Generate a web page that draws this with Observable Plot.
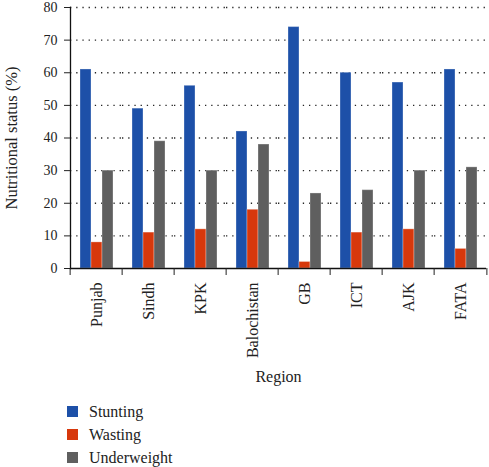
<!DOCTYPE html>
<html>
<head>
<meta charset="utf-8">
<script src="https://cdn.jsdelivr.net/npm/d3@7"></script>
<script src="https://cdn.jsdelivr.net/npm/@observablehq/plot@0.6"></script>
<style>
  body { margin: 0; background: #fff; font-family: "Liberation Serif", "DejaVu Serif", "Times New Roman", serif; }
  #legend { margin: 10px 0 0 67px; }
  .item { display: flex; align-items: center; height: 23px; font-size: 16px; color: #222; }
  .sw { width: 11px; height: 11px; margin-right: 11px; }
</style>
</head>
<body>
<div id="chart"></div>
<div id="legend"></div>
<script>
const regions = ["Punjab", "Sindh", "KPK", "Balochistan", "GB", "ICT", "AJK", "FATA"];
const series = ["Stunting", "Wasting", "Underweight"];
const stunting = [61, 49, 56, 42, 74, 60, 57, 61];
const wasting = [8, 11, 12, 18, 2, 11, 12, 6];
const underweight = [30, 39, 30, 38, 23, 24, 30, 31];
const colors = ["#1d50a8", "#d7380c", "#5f5f5f"];
const yTicks = [0, 10, 20, 30, 40, 50, 60, 70, 80];

const values = [stunting, wasting, underweight];
const data = regions.flatMap((r, i) => series.map((s, j) => ({region: r, series: s, value: values[j][i]})));

const W = 489, H = 390, ML = 67, MR = 0;
const step = (W - ML - MR) / regions.length;
const FONT = "'Liberation Serif', 'DejaVu Serif', 'Times New Roman', serif";

const chart = Plot.plot({
  width: W, height: H,
  marginLeft: ML, marginRight: MR, marginTop: 7, marginBottom: 122,
  style: {fontFamily: FONT, fontSize: "16px", color: "#222", background: "#fff"},
  fx: {domain: regions, padding: 0, label: null},
  x: {domain: series, paddingInner: 0, paddingOuter: 0.75, axis: null},
  y: {domain: [0, 80], ticks: yTicks},
  color: {domain: series, range: colors},
  marks: [
    Plot.gridY(yTicks.filter(d => d > 0), {stroke: "#000", strokeOpacity: 0.85, strokeWidth: 1.3, strokeDasharray: "1.3,4.9"}),
    Plot.barY(data, {fx: "region", x: "series", y: "value", fill: "series", stroke: "#fff", strokeOpacity: 0.3, strokeWidth: 1}),
    Plot.ruleY([0], {stroke: "#111", strokeWidth: 1.6}),
    Plot.frame({anchor: "left", facet: "super", stroke: "#111", strokeWidth: 1.3}),
    Plot.axisY({ticks: yTicks, tickSize: 6, tickPadding: 7, fontSize: 14, label: null}),
    Plot.axisY({ticks: [], tickSize: 0, text: null, fontSize: 16.5, label: "Nutritional status (%)", labelAnchor: "center", labelArrow: "none", labelOffset: 65}),
    Plot.axisFx({anchor: "bottom", tickSize: 0, tickRotate: -90, tickPadding: 14, fontSize: 16, label: "Region", labelAnchor: "center", labelArrow: "none", labelOffset: 113}),
    Plot.axisFx({anchor: "bottom", tickSize: 7, text: null, label: null, dx: -step / 2}),
    Plot.axisFx({anchor: "bottom", ticks: [regions[regions.length - 1]], tickSize: 7, text: null, label: null, dx: step / 2})
  ]
});
document.getElementById("chart").append(chart);

const legend = document.getElementById("legend");
series.forEach((s, i) => {
  const item = document.createElement("div");
  item.className = "item";
  const sw = document.createElement("span");
  sw.className = "sw";
  sw.style.background = colors[i];
  item.append(sw, document.createTextNode(s));
  legend.append(item);
});
</script>
</body>
</html>
